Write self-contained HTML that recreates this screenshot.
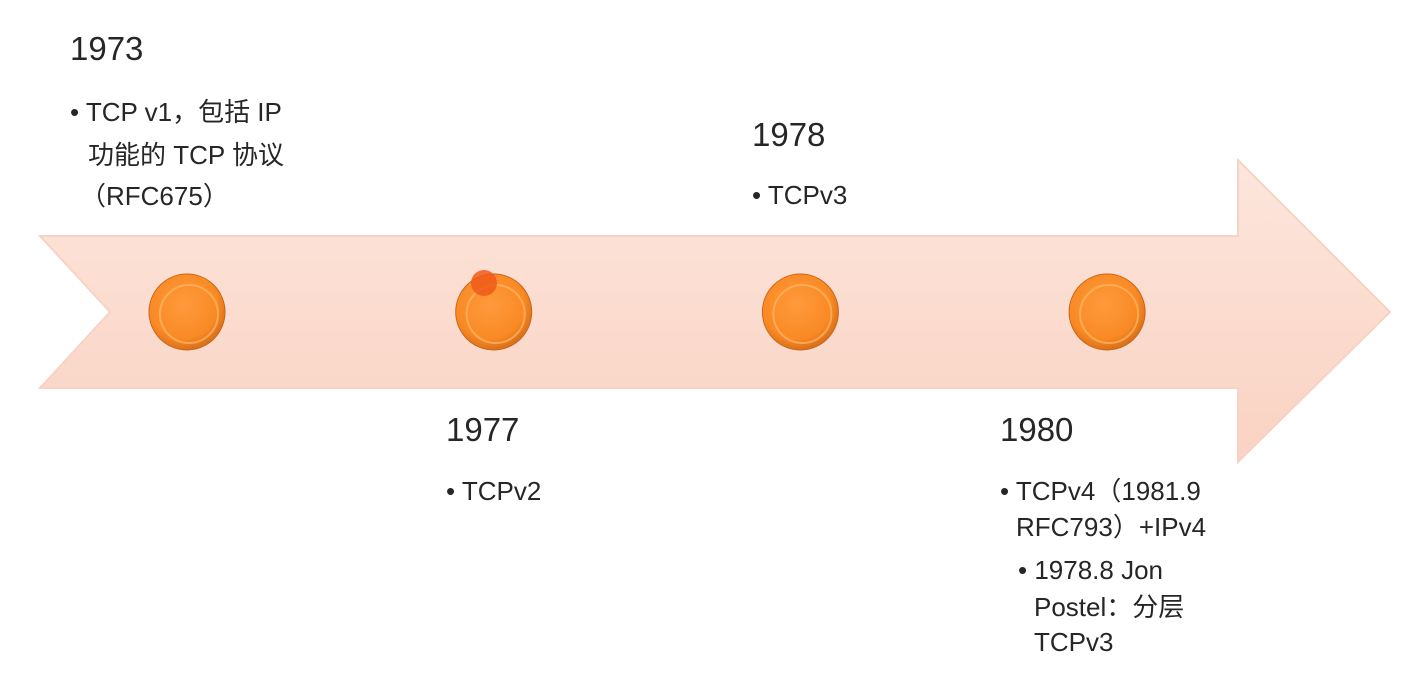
<!DOCTYPE html>
<html><head><meta charset="utf-8"><style>
body{margin:0;width:1426px;height:680px;background:#fff;overflow:hidden;position:relative;font-family:"Liberation Sans","Noto Sans CJK SC",sans-serif;color:#262626}
.t{position:absolute;white-space:nowrap}
.yr{font-size:33px;line-height:36px}
.b{font-size:26px;line-height:38px}
</style></head><body>
<svg width="1426" height="680" style="position:absolute;left:0;top:0">
<defs>
<linearGradient id="ag" x1="0" y1="0" x2="0" y2="1"><stop offset="0" stop-color="#fde6dc"/><stop offset="1" stop-color="#f9d2c2"/></linearGradient>
<radialGradient id="cg" cx="0.45" cy="0.4" r="0.6"><stop offset="0" stop-color="#ff9a3c"/><stop offset="0.75" stop-color="#f98a25"/><stop offset="1" stop-color="#d9701a"/></radialGradient>
</defs>
<polygon points="40,236 1238,236 1238,160 1390,312 1238,462 1238,388 40,388 110,312" fill="url(#ag)" stroke="#f7d3c5" stroke-width="2"/>
<g id="dots"></g>
</svg>
<div class="t yr" style="left:70px;top:31px">1973</div>
<div class="t b" style="left:70px;top:93px">• TCP v1，包括 IP</div>
<div class="t b" style="left:88px;top:136px">功能的 TCP 协议</div>
<div class="t b" style="left:80px;top:177px">（RFC675）</div>
<div class="t yr" style="left:752px;top:117px">1978</div>
<div class="t b" style="left:752px;top:176px">• TCPv3</div>
<div class="t yr" style="left:446px;top:412px">1977</div>
<div class="t b" style="left:446px;top:472px">• TCPv2</div>
<div class="t yr" style="left:1000px;top:412px">1980</div>
<div class="t b" style="left:1000px;top:472px">• TCPv4（1981.9</div>
<div class="t b" style="left:1016px;top:508px">RFC793）+IPv4</div>
<div class="t b" style="left:1018px;top:551px">• 1978.8 Jon</div>
<div class="t b" style="left:1034px;top:588px">Postel：分层</div>
<div class="t b" style="left:1034px;top:623px">TCPv3</div>
<script>
const years=[1973,1977,1978,1980];
const slots=[0,1,2,3];
const g=document.getElementById('dots');
const ns='http://www.w3.org/2000/svg';
function xPos(i){return 187+i*306.7;}
slots.forEach((s,i)=>{
 const c=document.createElementNS(ns,'circle');
 
 
 c.setAttribute('cx',xPos(s));c.setAttribute('cy',312);c.setAttribute('r',38);
 c.setAttribute('fill','url(#cg)');c.setAttribute('stroke','#c8661a');c.setAttribute('stroke-width','1');
 g.appendChild(c);
 const r=document.createElementNS(ns,'circle');
 
 
 r.setAttribute('cx',xPos(s)+2);r.setAttribute('cy',314);r.setAttribute('r',29);
 r.setAttribute('fill','none');r.setAttribute('stroke','#ffc070');r.setAttribute('stroke-width','2');r.setAttribute('opacity','0.6');
 g.appendChild(r);
});
const m=document.createElementNS(ns,'circle');


m.setAttribute('cx',484);m.setAttribute('cy',283);m.setAttribute('r',13);m.setAttribute('fill','#ee5a1a');m.setAttribute('opacity','0.85');
g.appendChild(m);
</script>
</body></html>
